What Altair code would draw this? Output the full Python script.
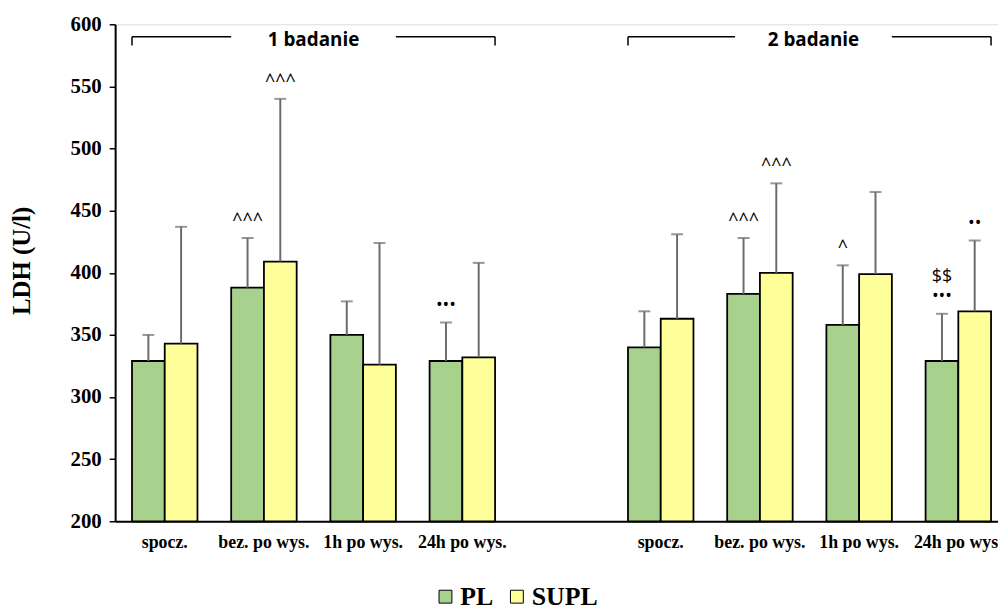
import altair as alt
import pandas as pd

# ---------------- data ----------------
time_points = ["spocz.", "bez. po wys.", "1h po wys.", "24h po wys."]
series_names = ["PL", "SUPL"]
study_labels = ["1 badanie", "2 badanie"]

pl_mean_1 = [329, 388, 350, 329]
pl_sd_1 = [21, 40, 27, 31]
supl_mean_1 = [343, 409, 326, 332]
supl_sd_1 = [94, 131, 98, 76]

pl_mean_2 = [340, 383, 358, 329]
pl_sd_2 = [29, 45, 48, 38]
supl_mean_2 = [363, 400, 399, 369]
supl_sd_2 = [68, 72, 66, 57]

y_ticks = [200, 250, 300, 350, 400, 450, 500, 550, 600]

# annotations: (study, time point, series, text, row above the error cap)
annotations = [
    (1, "bez. po wys.", "PL", "^^^", 0),
    (1, "bez. po wys.", "SUPL", "^^^", 0),
    (1, "24h po wys.", "PL", "•••", 0),
    (2, "bez. po wys.", "PL", "^^^", 0),
    (2, "bez. po wys.", "SUPL", "^^^", 0),
    (2, "1h po wys.", "PL", "^", 0),
    (2, "24h po wys.", "PL", "•••", 0),
    (2, "24h po wys.", "PL", "$$", 1),
    (2, "24h po wys.", "SUPL", "••", 0),
]

bracket_y = 590
bracket_end_y = 583

# ---------------- tables ----------------
def key(study, tp):
    return f"{study}|{tp}"

slots = [key(1, t) for t in time_points] + ["gap|"] + [key(2, t) for t in time_points]

rows = []
for study, (pm, ps, sm, ss) in {1: (pl_mean_1, pl_sd_1, supl_mean_1, supl_sd_1),
                                 2: (pl_mean_2, pl_sd_2, supl_mean_2, supl_sd_2)}.items():
    for i, tp in enumerate(time_points):
        rows.append({"slot": key(study, tp), "series": "PL", "mean": pm[i], "top": pm[i] + ps[i]})
        rows.append({"slot": key(study, tp), "series": "SUPL", "mean": sm[i], "top": sm[i] + ss[i]})
df = pd.DataFrame(rows)

top_lookup = {(r["slot"], r["series"]): r["top"] for r in rows}
ann_df = pd.DataFrame([
    {"slot": key(s, tp), "series": ser, "text": txt, "row": row,
     "top": top_lookup[(key(s, tp), ser)]}
    for s, tp, ser, txt, row in annotations
])

GREEN = "#A9D18E"
YELLOW = "#FFFF99"
ERR = "#6b6b6b"
SERIF = "Liberation Serif"
SANS = "Open Sans"

x_scale = alt.Scale(domain=slots, range=[0, 900], paddingInner=0.34, paddingOuter=0.17)
y_scale = alt.Scale(domain=[200, 600], nice=False, zero=False)
xo = alt.XOffset("series:N", scale=alt.Scale(domain=series_names, paddingInner=0, paddingOuter=0))

x_axis = alt.Axis(
    labelExpr="split(datum.label, '|')[1]",
    labelAngle=0,
    labelFont=SERIF,
    labelFontWeight="bold",
    labelFontSize=18,
    labelColor="black",
    labelPadding=12,
    ticks=False,
    domainColor="black",
    domainWidth=2,
    grid=False,
)
y_axis = alt.Axis(
    values=y_ticks,
    labelFont=SERIF,
    labelFontWeight="bold",
    labelFontSize=21,
    labelColor="black",
    labelPadding=8,
    tickColor="black",
    tickSize=6,
    tickWidth=1.5,
    domainColor="black",
    domainWidth=2,
    grid=False,
    titleFont=SERIF,
    titleFontWeight="bold",
    titleFontSize=25,
    titleColor="black",
    titleAngle=270,
    titleX=-94,
    titleY=238,
    titleAlign="center",
    titleBaseline="middle",
)


def X(field, bp=None):
    if bp is None:
        return alt.X(field, scale=x_scale, axis=x_axis, title=None)
    return alt.X(field, scale=x_scale, axis=x_axis, title=None, bandPosition=bp)


def Y(field):
    return alt.Y(field, scale=y_scale, axis=y_axis, title="LDH (U/l)")


base = alt.Chart(df)

bars = base.mark_bar(stroke="black", strokeWidth=1.8).encode(
    x=X("slot:N"),
    xOffset=xo,
    y=Y("mean:Q"),
    y2=alt.datum(200),
    color=alt.Color(
        "series:N",
        scale=alt.Scale(domain=series_names, range=[GREEN, YELLOW]),
        legend=alt.Legend(
            title=None,
            orient="none",
            legendX=320,
            legendY=564,
            direction="horizontal",
            symbolType="square",
            symbolSize=169,
            symbolStrokeColor="black",
            symbolStrokeWidth=1,
            labelFont=SERIF,
            labelFontWeight="bold",
            labelFontSize=26,
            labelColor="black",
            labelOffset=2,
            columnPadding=10,
            padding=0,
        ),
    ),
)

err_rule = base.mark_rule(color=ERR, strokeWidth=2).encode(
    x=X("slot:N"),
    xOffset=xo,
    y=Y("mean:Q"),
    y2="top:Q",
)
err_cap = base.mark_tick(color=ERR, size=12, thickness=2, orient="horizontal").encode(
    x=X("slot:N"),
    xOffset=xo,
    y=Y("top:Q"),
)

ann_base = alt.Chart(ann_df)
ann0 = ann_base.transform_filter("datum.row == 0").mark_text(
    font=SANS, fontSize=18, color="black", baseline="alphabetic", dy=-12
).encode(
    x=X("slot:N"),
    xOffset=xo,
    y=Y("top:Q"),
    text="text:N",
)
ann1 = ann_base.transform_filter("datum.row == 1").mark_text(
    font=SANS, fontSize=18, color="black", baseline="alphabetic", dy=-32
).encode(
    x=X("slot:N"),
    xOffset=xo,
    y=Y("top:Q"),
    text="text:N",
)


def hseg(a, bpa, b, bpb):
    d = pd.DataFrame([{"a": a, "b": b, "y": bracket_y}])
    return alt.Chart(d).mark_rule(color="black", strokeWidth=1.5).encode(
        x=X("a:N", bpa),
        x2=alt.X2("b:N", bandPosition=bpb),
        y=Y("y:Q"),
    )


def vend(a, bp):
    d = pd.DataFrame([{"a": a, "y": bracket_y, "y2": bracket_end_y}])
    return alt.Chart(d).mark_rule(color="black", strokeWidth=1.5).encode(
        x=X("a:N", bp),
        y=Y("y:Q"),
        y2="y2:Q",
    )


def blabel(a, bp, shift, txt):
    d = pd.DataFrame([{"a": a, "y": bracket_y, "t": txt}])
    return alt.Chart(d).mark_text(
        font=SANS, fontWeight="bold", fontSize=19, color="black", baseline="middle", dy=3, dx=shift
    ).encode(
        x=X("a:N", bp),
        y=Y("y:Q"),
        text="t:N",
    )


brackets = [
    hseg(slots[0], 0, slots[1], 0),
    hseg(slots[2], 1, slots[3], 1),
    vend(slots[0], 0),
    vend(slots[3], 1),
    blabel(slots[1], 1, 17, study_labels[0]),
    hseg(slots[5], 0, slots[6], 0.12),
    hseg(slots[7], 1, slots[8], 1),
    vend(slots[5], 0),
    vend(slots[8], 1),
    blabel(slots[6], 1, 21, study_labels[1]),
]

chart = alt.layer(bars, err_rule, err_cap, ann0, ann1, *brackets).properties(
    width=890,
    height=501,
    autosize=alt.AutoSizeParams(type="none"),
    padding={"left": 108, "top": 14, "right": 0, "bottom": 86},
).configure_view(stroke=None).configure(background="white")

chart.save("out.html", embed_options={"renderer": "svg", "actions": False})
